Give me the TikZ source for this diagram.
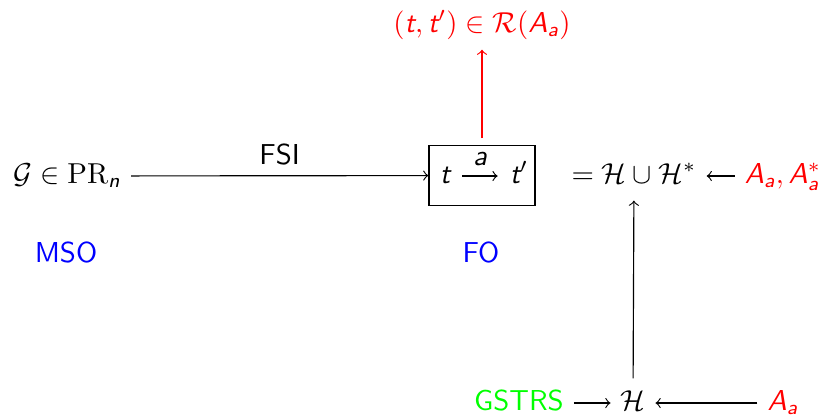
\documentclass[tikz,border=0pt]{standalone}
\usepackage{amsmath}
\usepackage{fontspec}
\DeclareMathAlphabet{\mathsfit}{TU}{lmss}{m}{sl}
\newcommand{\si}[1]{\mathsfit{#1}}
\usetikzlibrary{arrows}
\begin{document}
\begin{tikzpicture}[x=0.347pt,y=-0.347pt,
  row/.style={text height=7.5pt,text depth=2.5pt},
  conn/.style={->,line width=0.4pt}]
\useasboundingbox (0,0) rectangle (824,415);
% main row
\node[row,anchor=east] (G) at (131,176) {$\mathcal{G}\in\mathrm{PR}_{\si{n}}$};
\node[draw,minimum width=36.8pt,minimum height=20.8pt] (box) at (482,175.5) {};
\node[row,inner sep=0pt] (t1) at (445,176) {$\si{t}$};
\node[row,inner sep=0pt] (t2) at (519,176) {$\si{t}'$};
\node[text=red] (R) at (482,25)
  {$(\si{t},\si{t}')\in\mathcal{R}(\si{A}_{\si{a}})$};
\node[row] (HU) at (634,176) {$=\mathcal{H}\cup\mathcal{H}^{*}$};
\node[row,text=red] (AA) at (783,176) {$\si{A}_{\si{a}},\si{A}_{\si{a}}^{*}$};
% logic labels
\node[text=blue] (MSO) at (66,252) {\sffamily MSO};
\node[text=blue] (FO) at (481,252) {\sffamily FO};
% bottom row
\node[row] (H) at (633,403) {$\mathcal{H}$};
\node[row,text=green] (GS) at (519,403) {\sffamily GSTRS};
\node[row,text=red] (Ab) at (783,403) {$\si{A}_{\si{a}}$};
% connectors
\draw[conn] (G) -- node[above] {\sffamily FSI} (box);
\draw[conn,shorten <=4pt,shorten >=4pt] (t1) -- node[above] {$\si{a}$} (t2);
\draw[conn,red,shorten <=2.4pt] (box) -- (R);
\draw[conn] (AA) -- (HU);
\draw[conn] (H) -- (HU);
\draw[conn] (GS) -- (H);
\draw[conn] (Ab) -- (H);
\end{tikzpicture}
\end{document}
